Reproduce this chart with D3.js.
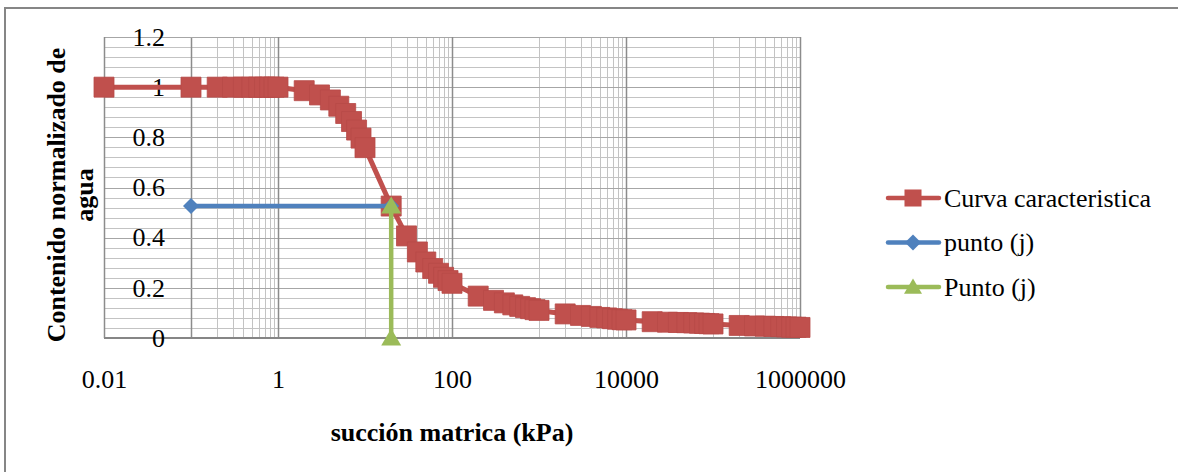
<!DOCTYPE html>
<html>
<head>
<meta charset="utf-8">
<script src="https://cdn.jsdelivr.net/npm/d3@7"></script>
<style>
  html, body { margin: 0; padding: 0; background: #ffffff; }
  svg { display: block; }
  svg text { font-family: "Liberation Serif", Tinos, "Times New Roman", "DejaVu Serif", serif !important; fill: #000; }
</style>
</head>
<body>
<svg id="chart" width="1178" height="472"></svg>
<script>
// Soil-water characteristic curve: suction (kPa) vs normalized water content
const suction = [
  0.01, 0.1, 0.2, 0.3, 0.4, 0.5, 0.6, 0.7, 0.8, 0.9, 1,
  2, 3, 4, 5, 6, 7, 8, 9, 10,
  20, 30, 40, 50, 60, 70, 80, 90, 100,
  200, 300, 400, 500, 600, 700, 800, 900, 1000,
  2000, 3000, 4000, 5000, 6000, 7000, 8000, 9000, 10000,
  20000, 30000, 40000, 50000, 60000, 70000, 80000, 90000, 100000,
  200000, 300000, 400000, 500000, 600000, 700000, 800000, 900000, 1000000
];
const waterContent = [
  1, 1, 1, 1, 1, 1, 1, 1, 1, 1, 1,
  0.986, 0.969, 0.949, 0.924, 0.895, 0.863, 0.829, 0.797, 0.759,
  0.526, 0.407, 0.343, 0.303, 0.277, 0.258, 0.242, 0.229, 0.218,
  0.167, 0.150, 0.140, 0.132, 0.126, 0.121, 0.117, 0.113, 0.110,
  0.096, 0.090, 0.086, 0.082, 0.080, 0.077, 0.075, 0.073, 0.072,
  0.065, 0.063, 0.062, 0.061, 0.060, 0.059, 0.058, 0.057, 0.056,
  0.050, 0.048, 0.047, 0.046, 0.045, 0.044, 0.043, 0.043, 0.042
];

// Point (j): horizontal reference from the axis crossing, vertical drop to zero
const puntoHX = [0.1, 20];
const puntoHY = [0.526, 0.526];
const puntoVX = [20, 20];
const puntoVY = [0.526, 0];

const xTicks = [0.01, 1, 100, 10000, 1000000];
const xTickLabels = ["0.01", "1", "100", "10000", "1000000"];
const yTicks = [0, 0.2, 0.4, 0.6, 0.8, 1, 1.2];
const yTickLabels = ["0", "0.2", "0.4", "0.6", "0.8", "1", "1.2"];
// minor vertical grid: tenths of each upper power-of-100 bound
const xMinor = [
  0.1, 0.2, 0.3, 0.4, 0.5, 0.6, 0.7, 0.8, 0.9,
  10, 20, 30, 40, 50, 60, 70, 80, 90,
  1000, 2000, 3000, 4000, 5000, 6000, 7000, 8000, 9000,
  100000, 200000, 300000, 400000, 500000, 600000, 700000, 800000, 900000
];
const yMinor = [0.04, 0.08, 0.12, 0.16, 0.24, 0.28, 0.32, 0.36, 0.44, 0.48, 0.52, 0.56,
  0.64, 0.68, 0.72, 0.76, 0.84, 0.88, 0.92, 0.96, 1.04, 1.08, 1.12, 1.16];

const legendNames = ["Curva caracteristica", "punto (j)", "Punto (j)"];
const colors = { red: "#C0504D", blue: "#4F81BD", green: "#9BBB59" };
const serif = '"Liberation Serif", Tinos, "Times New Roman", "DejaVu Serif", serif';

const svg = d3.select("#chart").attr("font-family", serif);
const plot = { left: 104, right: 800, top: 37, bottom: 338 };

const x = d3.scaleLog().domain([0.01, 1000000]).range([plot.left, plot.right]);
const y = d3.scaleLinear().domain([0, 1.2]).range([plot.bottom, plot.top]);

// chart frame
svg.append("rect")
  .attr("x", 5).attr("y", 8).attr("width", 1200).attr("height", 500)
  .attr("fill", "none").attr("stroke", "#868686").attr("stroke-width", 2);

// gridlines
const grid = svg.append("g");
grid.selectAll(".ymin").data(yMinor).join("line")
  .attr("x1", plot.left).attr("x2", plot.right)
  .attr("y1", d => Math.round(y(d)) + 0.5).attr("y2", d => Math.round(y(d)) + 0.5)
  .attr("stroke", "#c3c3c3").attr("stroke-width", 1);
grid.selectAll(".xmin").data(xMinor).join("line")
  .attr("x1", d => Math.round(x(d)) + 0.5).attr("x2", d => Math.round(x(d)) + 0.5)
  .attr("y1", plot.top).attr("y2", plot.bottom)
  .attr("stroke", d => d === 0.1 ? "#8c8c8c" : "#c3c3c3").attr("stroke-width", d => d === 0.1 ? 1.5 : 1);
grid.selectAll(".ymaj").data(yTicks).join("line")
  .attr("x1", plot.left).attr("x2", plot.right)
  .attr("y1", d => Math.round(y(d)) + 0.5).attr("y2", d => Math.round(y(d)) + 0.5)
  .attr("stroke", "#a6a6a6").attr("stroke-width", 1.2);
grid.selectAll(".xmaj").data(xTicks).join("line")
  .attr("x1", d => Math.round(x(d)) + 0.5).attr("x2", d => Math.round(x(d)) + 0.5)
  .attr("y1", plot.top).attr("y2", plot.bottom)
  .attr("stroke", "#8c8c8c").attr("stroke-width", 1.5);
// horizontal axis line
grid.append("line")
  .attr("x1", plot.left).attr("x2", plot.right)
  .attr("y1", plot.bottom).attr("y2", plot.bottom)
  .attr("stroke", "#868686").attr("stroke-width", 2);

// axes (labels only)
const xAxis = d3.axisBottom(x).tickValues(xTicks)
  .tickFormat((d, i) => xTickLabels[i]).tickSize(0).tickPadding(32);
const gx = svg.append("g").attr("transform", `translate(0,${plot.bottom})`).call(xAxis);
gx.attr("font-family", serif).attr("font-size", 26);
gx.select(".domain").remove();
gx.selectAll("text").attr("fill", "#000");

const yAxis = d3.axisLeft(y).tickValues(yTicks)
  .tickFormat((d, i) => yTickLabels[i]).tickSize(0).tickPadding(0);
const gy = svg.append("g").attr("transform", "translate(165,0)").call(yAxis);
gy.attr("font-family", serif).attr("font-size", 26);
gy.select(".domain").remove();
gy.selectAll("text").attr("fill", "#000");

// axis titles
svg.append("text")
  .attr("x", (plot.left + plot.right) / 2).attr("y", 441)
  .attr("text-anchor", "middle")
  .attr("font-size", 26).attr("font-weight", "bold")
  .text("succión matrica (kPa)");
const yTitle = svg.append("text")
  .attr("transform", "translate(0,195) rotate(-90)")
  .attr("text-anchor", "middle")
  .attr("font-size", 26).attr("font-weight", "bold");
yTitle.append("tspan").attr("x", 0).attr("y", 65).text("Contenido normalizado de");
yTitle.append("tspan").attr("x", 0).attr("y", 93).text("agua");

// symbol shapes
const squareSym = d3.symbol().type(d3.symbolSquare);
const diamondPath = s => `M0,${-s}L${s},0L0,${s}L${-s},0Z`;
const trianglePath = s => `M0,${-s * 0.95}L${s},${s * 0.75}L${-s},${s * 0.75}Z`;

const line = d3.line().x(d => x(d[0])).y(d => y(d[1]));

// series 1: characteristic curve
const curve = suction.map((s, i) => [s, waterContent[i]]);
svg.append("path").datum(curve).attr("d", line)
  .attr("fill", "none").attr("stroke", colors.red).attr("stroke-width", 5)
  .attr("stroke-linejoin", "round").attr("stroke-linecap", "round");
svg.append("g").selectAll("path").data(curve).join("path")
  .attr("transform", d => `translate(${x(d[0])},${y(d[1])})`)
  .attr("d", squareSym.size(400)())
  .attr("fill", colors.red).attr("stroke", "#b84a47").attr("stroke-width", 0.8);

// series 2: horizontal point line
const ptH = puntoHX.map((s, i) => [s, puntoHY[i]]);
svg.append("path").datum(ptH).attr("d", line)
  .attr("fill", "none").attr("stroke", colors.blue).attr("stroke-width", 4.5)
  .attr("stroke-linecap", "round");
svg.append("g").selectAll("path").data(ptH).join("path")
  .attr("transform", d => `translate(${x(d[0])},${y(d[1])})`)
  .attr("d", diamondPath(8))
  .attr("fill", colors.blue);

// series 3: vertical point line
const ptV = puntoVX.map((s, i) => [s, puntoVY[i]]);
svg.append("path").datum(ptV).attr("d", line)
  .attr("fill", "none").attr("stroke", colors.green).attr("stroke-width", 4.5)
  .attr("stroke-linecap", "round");
svg.append("g").selectAll("path").data(ptV).join("path")
  .attr("transform", d => `translate(${x(d[0])},${y(d[1])})`)
  .attr("d", trianglePath(10))
  .attr("fill", colors.green);

// legend
const legendRows = [
  { name: legendNames[0], color: colors.red, marker: squareSym.size(290)() },
  { name: legendNames[1], color: colors.blue, marker: diamondPath(8) },
  { name: legendNames[2], color: colors.green, marker: trianglePath(9) }
];
const legend = svg.append("g");
const rowY = d3.scalePoint().domain(legendNames).range([198, 287]);
legendRows.forEach(r => {
  const g = legend.append("g").attr("transform", `translate(0,${rowY(r.name)})`);
  g.append("line").attr("x1", 888).attr("x2", 939).attr("y1", 0).attr("y2", 0)
    .attr("stroke", r.color).attr("stroke-width", 4.5).attr("stroke-linecap", "round");
  g.append("path").attr("transform", "translate(913,0)").attr("d", r.marker).attr("fill", r.color);
  g.append("text").attr("x", 944).attr("y", 0).attr("dy", "0.34em")
    .attr("font-size", 26).text(r.name);
});
</script>
</body>
</html>
